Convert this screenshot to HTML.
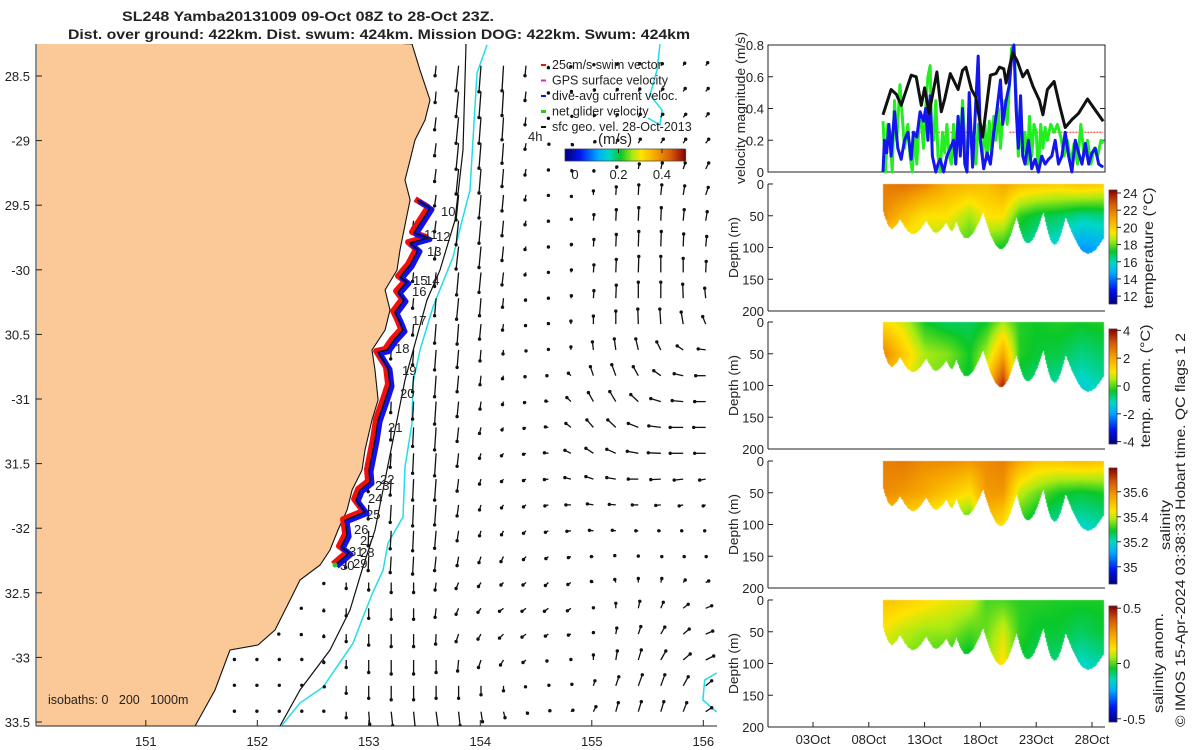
<!DOCTYPE html>
<html><head><meta charset="utf-8">
<style>
body{margin:0;background:#fff;}
#wrap{position:relative;width:1200px;height:750px;overflow:hidden;font-family:"Liberation Sans",sans-serif;}
canvas,svg{position:absolute;left:0;top:0;}
svg text{font-family:"Liberation Sans",sans-serif;fill:#222;}
</style></head>
<body>
<div id="wrap">
<canvas id="cv" width="1200" height="750"></canvas>
<svg id="sv" width="1200" height="750"></svg>
</div>
<script>
// ---------- map data ----------
const coastLon=[153.387,153.459,153.549,153.504,153.414,153.370,153.325,153.370,153.325,153.280,153.253,153.146,153.190,153.146,153.029,153.056,153.083,153.029,152.966,152.939,152.850,152.805,152.724,152.652,152.563,152.383,152.294,152.159,152.006,151.755,151.621,151.442];
const coastLat=[-28.252,-28.454,-28.686,-28.841,-28.995,-29.150,-29.305,-29.460,-29.653,-29.847,-30.002,-30.156,-30.311,-30.466,-30.621,-30.776,-31.008,-31.162,-31.395,-31.550,-31.704,-31.859,-32.014,-32.169,-32.285,-32.401,-32.556,-32.788,-32.904,-32.943,-33.252,-33.531];
const iso200Lon=[153.872,153.845,153.773,153.639,153.522,153.325,153.235,153.145,153.056,152.939,152.831,152.652,152.383,152.204];
const iso200Lat=[-28.252,-29.073,-29.615,-30.002,-30.234,-30.853,-31.240,-31.627,-32.014,-32.324,-32.633,-32.943,-33.252,-33.531];
const iso1000Lon=[154.060,153.970,153.908,153.845,153.755,153.576,153.459,153.396,153.387,153.325,153.307,153.172,153.128,153.038,152.948,152.859,152.590,152.383,152.222];
const iso1000Lat=[-28.260,-28.477,-29.382,-29.591,-29.901,-30.288,-30.621,-30.876,-31.186,-31.526,-31.913,-32.115,-32.324,-32.494,-32.687,-32.889,-33.229,-33.353,-33.523];
const iso1000bLon=[155.612,155.585,155.522,155.630,155.612,155.504];
const iso1000bLat=[-28.252,-28.454,-28.647,-28.763,-28.879,-28.825];
const iso1000cLon=[156.121,156.013,155.996,156.121];
const iso1000cLat=[-33.121,-33.175,-33.330,-33.423];
const trackLon=[153.433,153.549,153.405,153.531,153.370,153.441,153.370,153.280,153.343,153.263,153.316,153.236,153.271,153.307,153.226,153.164,153.083,153.172,153.190,153.146,153.083,153.056,153.002,153.011,152.922,152.886,152.966,152.787,152.805,152.751,152.823,152.697];
const trackLat=[-29.460,-29.522,-29.715,-29.754,-29.793,-29.847,-29.963,-30.056,-30.094,-30.172,-30.234,-30.327,-30.389,-30.466,-30.543,-30.621,-30.636,-30.760,-30.892,-31.008,-31.162,-31.317,-31.550,-31.643,-31.704,-31.782,-31.875,-31.937,-32.053,-32.146,-32.192,-32.285];
const lonTicks=[151,152,153,154,155,156];
const latTicks=[-28.5,-29,-29.5,-30,-30.5,-31,-31.5,-32,-32.5,-33,-33.5];
const latTickLabels=["28.5","-29","29.5","-30","30.5","-31","31.5","-32","32.5","-33","33.5"];
// surface geostrophic velocity field (cm/s), rows north->south, cols west->east
const U=[
[0,0,0,0,0,0,0,0,0,-2,-5,-4,-3,-2,0,0,1,2,3,3,3,4],
[0,0,0,0,0,0,0,0,0,-2,-5,-4,-3,-2,0,1,2,3,3,4,4,5],
[0,0,0,0,0,0,0,0,0,-3,-5,-4,-3,-2,0,2,2,3,4,4,5,5],
[0,0,0,0,0,0,0,0,0,-3,-5,-4,-3,-2,1,3,3,4,4,5,5,6],
[0,0,0,0,0,0,0,0,0,-3,-5,-4,-3,-2,0,2,1,2,2,3,4,6],
[0,0,0,0,0,0,0,0,0,-3,-5,-4,-3,-2,0,1,0,1,1,2,3,5],
[0,0,0,0,0,0,0,0,-2,-3,-5,-4,-3,-2,0,1,1,1,1,1,2,3],
[0,0,0,0,0,0,0,0,-2,-3,-5,-4,-3,-2,0,1,1,1,1,1,1,2],
[0,0,0,0,0,0,0,0,-2,-3,-4,-4,-3,-2,0,1,1,1,1,0,0,1],
[0,0,0,0,0,0,0,-1,-2,-3,-4,-3,-2,-1,0,1,1,1,0,0,-1,-2],
[0,0,0,0,0,0,0,-1,-2,-3,-3,-3,-2,-1,0,0,0,0,-1,-2,-4,-6],
[0,0,0,0,0,0,0,-1,-2,-3,-3,-2,-1,0,0,0,-2,-3,-5,-8,-12,-15],
[0,0,0,0,0,0,0,-1,-2,-3,-3,-2,-2,-2,-3,-5,-6,-8,-10,-14,-18,-20],
[0,0,0,0,0,0,-1,-1,-2,-3,-3,-2,-2,-3,-5,-8,-10,-12,-15,-20,-22,-22],
[0,0,0,0,0,0,-1,-1,-2,-3,-3,-3,-3,-4,-6,-10,-13,-16,-20,-24,-26,-24],
[0,0,0,0,0,-1,-1,-2,-2,-3,-3,-3,-4,-5,-8,-12,-15,-18,-22,-25,-26,-22],
[0,0,0,0,0,-1,-1,-2,-2,-3,-3,-3,-4,-5,-8,-12,-15,-18,-20,-20,-18,-12],
[0,0,0,0,-1,-1,-1,-2,-2,-3,-3,-3,-4,-5,-7,-10,-12,-13,-12,-10,-8,-5],
[0,0,0,0,-1,-1,-1,-2,-2,-3,-3,-3,-4,-5,-6,-8,-8,-7,-5,-4,-3,-2],
[0,0,0,0,-1,-1,-1,-2,-2,-3,-3,-4,-5,-5,-5,-5,-4,-2,0,2,2,1],
[0,0,0,0,0,0,0,0,0,-2,-5,-5,-5,-6,-6,-6,-4,-2,0,2,4,6],
[0,0,0,0,0,0,0,0,0,-2,-5,-6,-8,-8,-8,-7,0,0,3,5,10,12],
[0,0,0,0,0,0,0,0,0,-1,-5,-6,-8,-8,-6,-5,0,2,5,8,12,14],
[1,1,1,1,0,0,0,0,0,0,-2,-5,-6,-6,-3,0,0,3,6,10,14,16],
[1,1,1,1,1,0,0,0,0,0,0,0,0,-1,1,2,3,6,8,8,10,12],
[1,1,1,1,0,0,2,3,3,4,3,3,3,3,3,4,5,5,6,6,7,12]];
const V=[
[0,0,0,0,0,0,0,0,0,-20,-50,-52,-50,-20,-4,-2,2,3,4,4,5,6],
[0,0,0,0,0,0,0,0,0,-22,-50,-52,-48,-18,-3,0,3,4,5,5,6,6],
[0,0,0,0,0,0,0,0,0,-25,-52,-52,-45,-15,-2,2,4,5,6,6,6,7],
[0,0,0,0,0,0,0,0,0,-25,-52,-50,-40,-12,-2,-3,3,6,8,8,8,8],
[0,0,0,0,0,0,0,0,0,-25,-50,-48,-35,-12,-2,-4,-4,4,10,12,12,12],
[0,0,0,0,0,0,0,0,0,-22,-50,-46,-32,-10,-1,-3,8,16,20,20,18,15],
[0,0,0,0,0,0,0,0,-15,-22,-48,-45,-30,-8,-1,3,12,22,26,26,22,18],
[0,0,0,0,0,0,0,0,-15,-25,-45,-42,-28,-6,-1,4,14,24,30,30,25,20],
[0,0,0,0,0,0,0,0,-18,-28,-45,-40,-25,-5,0,5,15,26,32,32,28,22],
[0,0,0,0,0,0,0,-10,-20,-35,-42,-35,-18,-4,0,5,15,26,32,32,28,20],
[0,0,0,0,0,0,0,-12,-22,-38,-40,-30,-12,-3,1,6,16,26,30,30,24,15],
[0,0,0,0,0,0,0,-18,-30,-40,-35,-22,-8,-2,1,6,16,22,22,16,8,2],
[0,0,0,0,0,0,-12,-20,-32,-42,-32,-18,-6,-2,0,5,18,22,18,10,4,0],
[0,0,0,0,0,0,-15,-22,-35,-45,-30,-15,-6,-2,1,8,18,20,14,6,2,0],
[0,0,0,0,0,-10,-18,-25,-38,-45,-28,-12,-5,-2,1,8,15,15,8,3,0,0],
[0,0,0,0,0,-12,-22,-28,-40,-45,-26,-10,-5,-2,1,6,10,8,4,1,0,0],
[0,0,0,0,0,-15,-25,-32,-42,-42,-24,-10,-5,-3,-1,3,5,3,0,-1,-2,-2],
[0,0,0,0,-12,-18,-28,-35,-42,-40,-22,-10,-6,-4,-2,0,2,1,0,-1,-2,-2],
[0,0,0,-8,-15,-22,-30,-36,-40,-35,-20,-10,-8,-5,-3,-1,1,1,0,0,0,0],
[0,0,0,-10,-15,-22,-28,-32,-35,-28,-18,-12,-10,-6,-4,-2,0,2,1,0,0,0],
[0,0,0,0,-2,-12,-15,-20,-20,-15,-12,-8,-5,-5,-6,-4,2,6,8,8,5,3],
[0,0,0,0,-5,-15,-20,-22,-22,-18,-12,-8,-6,-6,-6,-5,1,10,14,12,8,5],
[0,0,0,-1,-5,-15,-22,-25,-25,-20,-15,-10,-8,-6,-4,-2,3,12,15,14,10,6],
[1,1,1,1,-5,-15,-25,-28,-28,-25,-22,-15,-10,-5,-2,1,10,18,20,18,12,8],
[1,1,1,1,-2,-15,-25,-28,-28,-25,-25,-18,-10,-2,1,3,10,18,22,22,18,10],
[1,1,1,1,1,-12,-25,-28,-30,-30,-28,-20,-12,-3,2,3,10,18,20,20,18,8]];
// ---------- time series data ----------
const dateTicks=[3,8,13,18,23,28];
const dateLabels=["03Oct","08Oct","13Oct","18Oct","23Oct","28Oct"];
const velTicks=[0,0.2,0.4,0.6,0.8];
const geoDays=[9.27,10.0,10.46,10.9,11.8,12.25,12.7,13.0,13.4,14.1,14.5,14.8,15.3,16.0,16.4,16.7,17.2,17.6,18.2,18.9,19.4,19.7,20.1,20.3,20.6,20.9,21.3,21.8,22.2,22.7,23.3,23.6,24.0,24.6,25.1,25.6,26.2,26.8,27.6,28.3,29.0];
const geoVals=[0.36,0.52,0.49,0.42,0.61,0.6,0.42,0.53,0.37,0.63,0.38,0.46,0.62,0.52,0.64,0.66,0.52,0.47,0.22,0.61,0.62,0.66,0.65,0.56,0.66,0.75,0.7,0.6,0.64,0.54,0.45,0.36,0.52,0.57,0.42,0.28,0.33,0.37,0.46,0.39,0.32];
const netDays=[9.27,9.5,9.7,9.9,10.1,10.3,10.5,10.8,11.0,11.2,11.5,11.7,11.9,12.1,12.3,12.5,12.7,12.9,13.1,13.3,13.5,13.6,13.8,14.0,14.2,14.4,14.6,14.8,15.0,15.2,15.4,15.6,15.8,16.0,16.2,16.4,16.6,16.8,17.0,17.2,17.4,17.6,17.8,18.0,18.2,18.4,18.6,18.8,19.0,19.2,19.4,19.6,19.8,20.0,20.2,20.4,20.6,20.8,21.0,21.2,21.4,21.6,21.8,22.0,22.2,22.4,22.6,22.8,23.0,23.2,23.4,23.6,23.8,24.0,24.3,24.6,24.9,25.2,25.5,25.8,26.1,26.4,26.7,27.0,27.3,27.6,27.9,28.2,28.5,28.8,29.0];
const netVals=[0.32,0.0,0.3,0.25,0.0,0.45,0.2,0.55,0.35,0.15,0.3,0.1,0.0,0.25,0.05,0.3,0.32,0.15,0.4,0.6,0.67,0.3,0.2,0.45,0.1,0.0,0.25,0.12,0.3,0.1,0.05,0.3,0.1,0.35,0.15,0.45,0.2,0.1,0.3,0.15,0.25,0.05,0.3,0.2,0.1,0.3,0.08,0.32,0.1,0.35,0.2,0.4,0.15,0.35,0.45,0.3,0.55,0.78,0.8,0.5,0.1,0.3,0.1,0.25,0.05,0.35,0.1,0.3,0.25,0.0,0.3,0.15,0.28,0.2,0.3,0.25,0.3,0.22,0.1,0.2,0.05,0.18,0.05,0.3,0.1,0.2,0.05,0.15,0.1,0.2,0.18];
const curDays=[9.27,9.4,9.6,9.8,10.0,10.3,10.6,10.9,11.2,11.5,11.8,12.0,12.3,12.6,12.9,13.1,13.3,13.5,13.7,14.0,14.2,14.4,14.7,15.0,15.3,15.6,15.8,16.0,16.2,16.4,16.6,16.8,17.0,17.3,17.6,17.8,18.0,18.3,18.6,18.9,19.2,19.5,19.8,20.0,20.3,20.6,20.8,21.0,21.2,21.4,21.6,21.8,22.0,22.3,22.6,22.9,23.2,23.5,23.8,24.1,24.4,24.7,25.0,25.3,25.6,25.9,26.2,26.5,26.8,27.1,27.4,27.7,28.0,28.3,28.6,29.0];
const curVals=[0.0,0.2,0.12,0.3,0.1,0.38,0.15,0.08,0.2,0.25,0.08,0.25,0.22,0.38,0.32,0.4,0.2,0.48,0.1,0.0,0.05,0.08,0.0,0.1,0.15,0.2,0.05,0.35,0.1,0.4,0.05,0.0,0.5,0.03,0.45,0.73,0.2,0.02,0.12,0.05,0.25,0.4,0.58,0.3,0.45,0.55,0.72,0.82,0.4,0.15,0.48,0.1,0.05,0.2,0.02,0.08,0.0,0.1,0.05,0.08,0.1,0.2,0.05,0.1,0.25,0.1,0.0,0.2,0.12,0.05,0.18,0.05,0.12,0.15,0.05,0.03];
const swimSegStart=[11.8,20.6];
const swimSegEnd=[17.6,29.0];
const swimSpeed=0.25;
// ---------- section data ----------
const botDays=[9.27,10.0,10.76,11.95,13.1,14.0,14.9,15.4,15.8,16.7,18.2,19.8,21.2,22.2,23.6,24.6,25.6,27.6,29.05];
const botDepth=[43,69,54,77,56,75,59,72,58,84,43,101,51,92,43,94,51,108,83];
const knotDays=[9.3,11,13,15,17,18.5,20,21.5,23,25,27,29];
const tSurf=[22.0,22.2,21.8,20.8,20.6,20.4,21.0,20.4,20.2,20,20.3,20];
const t50=[21.6,20.5,19.5,19.5,18.5,19.5,19.5,17.5,17,16.8,16.3,16.5];
const t100=[19,19,18.5,18,17.5,17.5,17.2,16.5,16,15.5,14.5,14.8];
const aSurf=[1.2,0.8,-0.3,-0.6,-0.6,-0.3,0.5,-0.2,-0.3,-0.2,-0.3,-0.2];
const a50=[2.5,1.5,0.5,0.3,-0.3,0.5,2.0,-0.2,-0.4,-0.5,-0.8,-0.6];
const a100=[1.5,1.0,0.3,0,-0.5,1.5,3.8,-0.6,-0.8,-1.0,-1.3,-1.0];
const sSurf=[35.62,35.63,35.6,35.6,35.58,35.6,35.62,35.55,35.5,35.5,35.52,35.5];
const s50=[35.6,35.58,35.55,35.5,35.45,35.58,35.58,35.4,35.35,35.3,35.28,35.3];
const s100=[35.5,35.45,35.4,35.35,35.3,35.5,35.45,35.3,35.25,35.22,35.2,35.22];
const nSurf=[0.2,0.18,0.15,0.12,0.1,0.0,0.0,-0.02,-0.02,-0.03,-0.03,-0.03];
const n50=[0.12,0.08,0.05,0.05,0.0,0.02,0.1,-0.02,-0.05,-0.05,-0.08,-0.05];
const n100=[0.05,0.02,0,-0.05,-0.08,0.05,0.15,-0.05,-0.08,-0.1,-0.15,-0.12];
const depthTicks=[0,50,100,150,200];
const tempTicks=[12,14,16,18,20,22,24];
const anomTicks=[-4,-2,0,2,4];
const salTicks=[35,35.2,35.4,35.6];
const salAnomTicks=[-0.5,0,0.5];
const speedTicks=[0,0.2,0.4];

// ---------- scales ----------
const mx=lon=>257.3+(lon-152)*111.5;
const my=lat=>76+(-28.5-lat)*129.2;
const tx=d=>813+(d-3)*11.16;
const vy=v=>172-v*158.75;
const panelTops=[184,322,461,600];
const dy=(p,z)=>panelTops[p]+z*0.635;

const NS="http://www.w3.org/2000/svg";
const sv=document.getElementById('sv');
function mk(tag,attrs,parent){const e=document.createElementNS(NS,tag);for(const k in attrs)e.setAttribute(k,attrs[k]);(parent||sv).appendChild(e);return e;}
function txt(s,x,y,o,parent){const e=mk('text',Object.assign({x:x,y:y,'font-size':13},o||{}),parent);e.textContent=s;return e;}
function lerpArr(xs,ys,x){if(x<=xs[0])return ys[0];for(let i=1;i<xs.length;i++){if(x<=xs[i]){const t=(x-xs[i-1])/(xs[i]-xs[i-1]);return ys[i-1]+t*(ys[i]-ys[i-1]);}}return ys[ys.length-1];}
function smoothArr(xs,ys,x){if(x<=xs[0])return ys[0];for(let i=1;i<xs.length;i++){if(x<=xs[i]){let t=(x-xs[i-1])/(xs[i]-xs[i-1]);const a=ys[i-1],b=ys[i];
  // U-shaped troughs: deeper end is rounded, shallower end sharp
  if(b>a){t=Math.sin(t*Math.PI/2);}else{t=1-Math.cos(t*Math.PI/2);}
  return a+t*(b-a);}}return ys[ys.length-1];}
function lerpDesc(xs,ys,x){if(x>=xs[0])return ys[0];for(let i=1;i<xs.length;i++){if(x>=xs[i]){const t=(x-xs[i-1])/(xs[i]-xs[i-1]);return ys[i-1]+t*(ys[i]-ys[i-1]);}}return ys[ys.length-1];}

const cmStops=[[0,[0,0,130]],[0.12,[0,20,240]],[0.27,[0,170,255]],[0.36,[0,215,200]],[0.46,[10,200,40]],[0.56,[170,235,20]],[0.63,[255,228,0]],[0.76,[245,160,0]],[0.88,[215,90,10]],[1,[140,0,0]]];
function cmap(t){t=Math.max(0,Math.min(1,t));for(let i=1;i<cmStops.length;i++){if(t<=cmStops[i][0]){const a=cmStops[i-1],b=cmStops[i];const f=(t-a[0])/(b[0]-a[0]);return [0,1,2].map(k=>Math.round(a[1][k]+f*(b[1][k]-a[1][k])));}}return cmStops[cmStops.length-1][1];}

// ---------- canvas ----------
const cv=document.getElementById('cv');const ctx=cv.getContext('2d');
const img=ctx.createImageData(1200,750);
function setPix(x,y,c){const i=(y*1200+x)*4;img.data[i]=c[0];img.data[i+1]=c[1];img.data[i+2]=c[2];img.data[i+3]=255;}
const sections=[[tSurf,t50,t100,11.2,24.35],[aSurf,a50,a100,-4.1,4.1],[sSurf,s50,s100,34.87,35.79],[nSurf,n50,n100,-0.52,0.52]];
for(let p=0;p<4;p++){
  const [sA,mA,dA,lo,hi]=sections[p];
  const x0=Math.ceil(tx(botDays[0])),x1=Math.floor(tx(botDays[botDays.length-1]));
  for(let x=x0;x<=x1;x++){
    const d=3+(x-813)/11.16;
    const bd=smoothArr(botDays,botDepth,d);
    const vs=lerpArr(knotDays,sA,d),vm=lerpArr(knotDays,mA,d),vd=lerpArr(knotDays,dA,d);
    const yb=Math.round(dy(p,bd));
    for(let y=Math.round(dy(p,0.5));y<=yb;y++){
      const z=(y-panelTops[p])/0.635;
      const v=z<=50?vs+(vm-vs)*z/50:vm+(vd-vm)*Math.min(1,(z-50)/50);
      setPix(x,y,cmap((v-lo)/(hi-lo)));
    }
  }
}
const cbars=[[190,303],[329,443],[468,583],[606,721]];
cbars.forEach(([a,b])=>{for(let y=a;y<=b;y++){const c=cmap((b-y)/(b-a));for(let x=1109;x<=1116;x++)setPix(x,y,c);}});
for(let x=565;x<=685;x++){const c=cmap((x-565)/120);for(let y=149;y<=160;y++)setPix(x,y,c);}
ctx.putImageData(img,0,0);
const cbNames=['temperature-colorbar','temp-anomaly-colorbar','salinity-colorbar','salinity-anomaly-colorbar'];
cbars.forEach(([a,b],k)=>{const r=mk('rect',{x:1109,y:a,width:8,height:b-a+1,fill:'none',stroke:'#222','stroke-width':0.6});

});

// ---------- map ----------
const gMap=mk('g',{});


const clip=mk('clipPath',{id:'mapclip'},mk('defs',{}));mk('rect',{x:37,y:44,width:680,height:682},clip);
const gm=mk('g',{'clip-path':'url(#mapclip)'},gMap);
let lp='M'+mx(148)+','+my(-28)+' ';
for(let i=0;i<coastLon.length;i++)lp+='L'+mx(coastLon[i]).toFixed(1)+','+my(coastLat[i]).toFixed(1)+' ';
lp+='L'+mx(151.3)+','+my(-33.8)+' L'+mx(148)+','+my(-33.8)+'Z';
const land=mk('path',{d:lp,fill:'#fbc997',stroke:'#111','stroke-width':1.1},gm);


function pline(lons,lats,attrs,name){let d='';for(let i=0;i<lons.length;i++)d+=(i?'L':'M')+mx(lons[i]).toFixed(1)+','+my(lats[i]).toFixed(1);const e=mk('path',Object.assign({d:d,fill:'none'},attrs),gm);return e;}
pline(iso200Lon,iso200Lat,{stroke:'#111','stroke-width':1.2},'isobath-200m');
pline(iso1000Lon,iso1000Lat,{stroke:'#22dde8','stroke-width':1.5},'isobath-1000m');
pline(iso1000bLon,iso1000bLat,{stroke:'#22dde8','stroke-width':1.5},'isobath-1000m-offshore');
pline(iso1000cLon,iso1000cLat,{stroke:'#22dde8','stroke-width':1.5},'isobath-1000m-south');
const gA=mk('g',{},gm);


for(let j=0;j<U.length;j++){
  const lat=-28.42-0.2*j;
  const cl=lerpDesc(coastLat,coastLon,lat);
  for(let i=0;i<U[j].length;i++){
    const lon=151.79+0.2015*i;
    if(lon<cl+0.06)continue;
    const x=mx(lon),y=my(lat),x2=x+U[j][i]*0.5,y2=y-V[j][i]*0.5;
    const l=mk('line',{x1:x.toFixed(1),y1:y.toFixed(1),x2:x2.toFixed(1),y2:y2.toFixed(1),stroke:'#111','stroke-width':1.3},gA);
    
    
    const c=mk('circle',{cx:x2.toFixed(1),cy:y2.toFixed(1),r:1.7,fill:'#111'},gA);
    
    
  }
}
function trk(dx,dy2,col,w,name){let d='';for(let i=0;i<trackLon.length;i++)d+=(i?'L':'M')+(mx(trackLon[i])+dx).toFixed(1)+','+(my(trackLat[i])+dy2).toFixed(1);const e=mk('path',{d:d,fill:'none',stroke:col,'stroke-width':w,'stroke-linejoin':'round'},gm);}
trk(-2,-1,'#f01010',6,'swim-vector-track');
trk(2,1.5,'#1010f0',5,'dive-avg-current-track');
trk(0,0,'#111',1.4,'glider-track-line');
const st=mk('circle',{cx:mx(trackLon[trackLon.length-1]),cy:my(trackLat[trackLat.length-1]),r:2.5,fill:'#22cc22'},gm);

const dayLabels=[["10",441,216],["11",424,239],["12",436,241],["13",427,256],["15",413,285],["14",425,285],["16",412,296],["17",412,325],["18",395,353],["19",402,375],["20",400,398],["21",388,432],["22",380,484],["23",375,490],["24",368,503],["25",366,519],["26",354,534],["27",360,545],["28",360,557],["31",349,556],["29",353,568],["30",340,570]];
dayLabels.forEach(l=>{const t=txt(l[0],l[1],l[2],{'font-size':13},gm);});
const legItems=[['25cm/s swim vector','#f01010'],['GPS surface velocity','#e020e0'],['dive-avg current veloc.','#1010f0'],['net glider velocity','#22cc22'],['sfc geo. vel. 28-Oct-2013','#111']];
const gL=mk('g',{},gMap);
legItems.forEach((it,k)=>{const y=65+k*15.5;mk('line',{x1:541,y1:y,x2:546,y2:y,stroke:it[1],'stroke-width':it[1]=='#22cc22'?3:2},gL);const t=txt(it[0],552,y+4,{'font-size':12.5},gL);});
txt('4h',528,141,{'font-size':13},gMap);
txt('(m/s)',598,144,{'font-size':15},gMap);
mk('rect',{x:565,y:149,width:120,height:12,fill:'none',stroke:'#222','stroke-width':0.6},gMap);
speedTicks.forEach(v=>{const x=565+(v+0.046)/0.552*120;mk('line',{x1:x,y1:149,x2:x,y2:153,stroke:'#222'},gMap);txt(String(v),x,179,{'text-anchor':'middle','font-size':13},gMap);});
txt('isobaths: 0   200   1000m',48,704,{'font-size':12.5},gMap).setAttribute('style','white-space:pre');
mk('line',{x1:36,y1:44,x2:36,y2:726,stroke:'#222','stroke-width':1},gMap);
mk('line',{x1:36,y1:726,x2:717,y2:726,stroke:'#222','stroke-width':1},gMap);
lonTicks.forEach(v=>{const x=mx(v);mk('line',{x1:x,y1:726,x2:x,y2:720,stroke:'#222'},gMap);txt(String(v),x,746,{'text-anchor':'middle'},gMap);});
latTicks.forEach((v,k)=>{const y=my(v);mk('line',{x1:36,y1:y,x2:42,y2:y,stroke:'#222'},gMap);txt(latTickLabels[k],30,y+5,{'text-anchor':'end'},gMap);});
const t1=txt('SL248 Yamba20131009 09-Oct 08Z to 28-Oct 23Z.',122,21,{'font-weight':'bold','font-size':14,textLength:372,lengthAdjust:'spacingAndGlyphs'});

const t2=txt('Dist. over ground: 422km. Dist. swum: 424km. Mission DOG: 422km. Swum: 424km',68,39,{'font-weight':'bold','font-size':14,textLength:622,lengthAdjust:'spacingAndGlyphs'});


// ---------- velocity panel ----------
const gV=mk('g',{});
mk('rect',{x:768,y:45,width:337,height:127,fill:'none',stroke:'#222','stroke-width':1},gV);
velTicks.forEach(v=>{const y=vy(v);mk('line',{x1:768,y1:y,x2:773,y2:y,stroke:'#222'},gV);mk('line',{x1:1105,y1:y,x2:1100,y2:y,stroke:'#222'},gV);txt(String(v),764,y+5,{'text-anchor':'end'},gV);});
function series(ds,vs,col,w,name){let d='';for(let i=0;i<ds.length;i++)d+=(i?'L':'M')+tx(ds[i]).toFixed(1)+','+Math.max(45,vy(vs[i])).toFixed(1);const e=mk('path',{d:d,fill:'none',stroke:col,'stroke-width':w,'stroke-linejoin':'round'},gV);}
for(let k=0;k<swimSegStart.length;k++){const l=mk('line',{x1:tx(swimSegStart[k]),y1:vy(swimSpeed),x2:tx(swimSegEnd[k]),y2:vy(swimSpeed),stroke:'#f06060','stroke-width':1.5,'stroke-dasharray':'2,1'},gV);}
series(netDays,netVals,'#22ee22',3,'net-glider-velocity-line');
series(curDays,curVals,'#1515ee',3,'dive-avg-current-line');
series(geoDays,geoVals,'#111',3,'geostrophic-velocity-line');
const yl=txt('velocity magnitude (m/s)',0,0,{'text-anchor':'middle','transform':'translate(745,108) rotate(-90)',textLength:152,lengthAdjust:'spacingAndGlyphs'},gV);


// ---------- section axes ----------
const secNames=['temperature-section','temp-anomaly-section','salinity-section','salinity-anomaly-section'];
const cbLabels=['temperature (°C)','temp. anom. (°C)','salinity','salinity anom.'];
const cbLabelX=[1153,1150,1170,1163];
const cbLabelY=[248,386,525,663];
const cbLabelLen=[121,123,50,100];
const cbTickSets=[[tempTicks,11.2,24.35],[anomTicks,-4.1,4.1],[salTicks,34.87,35.79],[salAnomTicks,-0.52,0.52]];
for(let p=0;p<4;p++){
  const g=mk('g',{});
  const top=panelTops[p],bot=dy(p,200);
  mk('line',{x1:768,y1:top,x2:768,y2:bot,stroke:'#222'},g);
  mk('line',{x1:768,y1:bot,x2:1105,y2:bot,stroke:'#222'},g);
  depthTicks.forEach(z=>{const y=dy(p,z);mk('line',{x1:768,y1:y,x2:773,y2:y,stroke:'#222'},g);txt(String(z),764,y+5,{'text-anchor':'end'},g);});
  const dl=txt('Depth (m)',0,0,{'text-anchor':'middle','transform':'translate(738,'+((top+bot)/2)+') rotate(-90)',textLength:61,lengthAdjust:'spacingAndGlyphs'},g);
  
  const [ticks,lo,hi]=cbTickSets[p];const [a,b]=cbars[p];
  ticks.forEach(v=>{const y=b-(v-lo)/(hi-lo)*(b-a);mk('line',{x1:1117,y1:y,x2:1121,y2:y,stroke:'#222'},g);txt(String(v),1123,y+5,{},g);});
  const cl=txt(cbLabels[p],0,0,{'text-anchor':'middle','font-size':14,'transform':'translate('+cbLabelX[p]+','+cbLabelY[p]+') rotate(-90)',textLength:cbLabelLen[p],lengthAdjust:'spacingAndGlyphs'},g);
  
  if(p==3){dateTicks.forEach((d,k)=>{const x=tx(d);mk('line',{x1:x,y1:bot,x2:x,y2:bot-5,stroke:'#222'},g);txt(dateLabels[k],x,bot+17,{'text-anchor':'middle'},g);});}
}
const cr=txt('© IMOS 15-Apr-2024 03:38:33 Hobart time. QC flags 1 2',0,0,{'font-size':14,'transform':'translate(1185,727) rotate(-90)',textLength:394,lengthAdjust:'spacingAndGlyphs'});

</script>
</body></html>
